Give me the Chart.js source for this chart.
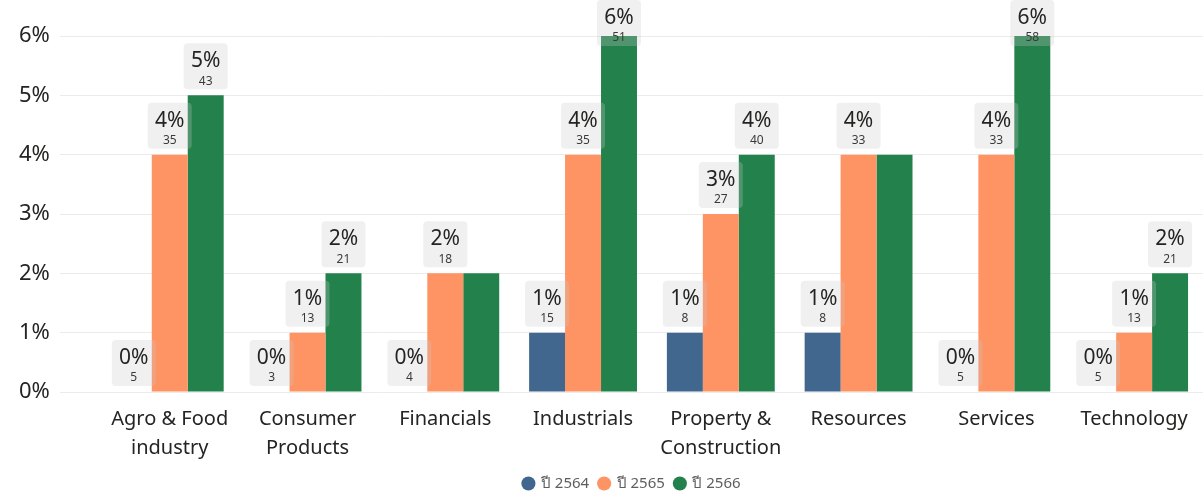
<!DOCTYPE html>
<html>
<head>
<meta charset="utf-8">
<script src="https://cdn.jsdelivr.net/npm/chart.js@4"></script>
<style>
  html, body { margin: 0; padding: 0; background: #fff; }
  #wrap { width: 1203px; height: 491px; }
</style>
</head>
<body>
<div id="wrap"><canvas id="mainChart"></canvas></div>
<script>
    const categorias = [
        ['Agro & Food', 'industry'],
        ['Consumer', 'Products'],
        'Financials',
        'Industrials',
        ['Property &', 'Construction'],
        'Resources',
        'Services',
        'Technology'
    ];
    const anios = ['ปี 2564', 'ปี 2565', 'ปี 2566'];
    const colores = ['#41678e', '#fe9463', '#23814c'];

    // porcentaje (redondeado) por sector
    const pct2564 = [0, 0, 0, 1, 1, 1, 0, 0];
    const pct2565 = [4, 1, 2, 4, 3, 4, 4, 1];
    const pct2566 = [5, 2, 2, 6, 4, 4, 6, 2];

    // cantidad mostrada bajo el porcentaje (null = etiqueta oculta)
    const cnt2564 = [5, 3, 4, 15, 8, 8, 5, 5];
    const cnt2565 = [35, 13, 18, 35, 27, 33, 33, 13];
    const cnt2566 = [43, 21, null, 51, 40, null, 58, 21];

    const yTicks = [0, 1, 2, 3, 4, 5, 6];

    const FONT = '"Segoe UI", "Noto Sans", "Open Sans", sans-serif';

    const valores = [pct2564, pct2565, pct2566];
    const cuentas = [cnt2564, cnt2565, cnt2566];

    const labelBoxes = {
        id: 'labelBoxes',
        afterLayout(chart) {
            // la leyenda del original queda algo a la derecha del centro
            chart.legend.left += 26;
            chart.legend.right += 26;
        },
        afterDatasetsDraw(chart) {
            const ctx = chart.ctx;
            ctx.save();
            chart.data.datasets.forEach((ds, di) => {
                const meta = chart.getDatasetMeta(di);
                meta.data.forEach((bar, i) => {
                    const c = cuentas[di][i];
                    if (c === null) return;
                    const w = 44, h = 46;
                    let top = bar.y - 6 - h;
                    if (top < 0) top = 0;
                    const left = bar.x - w / 2;
                    ctx.fillStyle = 'rgba(200,200,200,0.28)';
                    ctx.beginPath();
                    ctx.roundRect(left, top, w, h, 4);
                    ctx.fill();
                    ctx.textAlign = 'center';
                    ctx.textBaseline = 'middle';
                    ctx.fillStyle = '#252423';
                    ctx.font = '21px ' + FONT;
                    ctx.fillText(valores[di][i] + '%', bar.x, top + 18);
                    ctx.fillStyle = '#3a3a3a';
                    ctx.font = '12px ' + FONT;
                    ctx.fillText(String(c), bar.x, top + 38);
                });
            });
            ctx.restore();
        }
    };

    const ctx = document.getElementById('mainChart').getContext('2d');
    new Chart(ctx, {
        type: 'bar',
        data: {
            labels: categorias,
            datasets: anios.map((a, i) => ({
                label: a,
                data: valores[i],
                backgroundColor: colores[i],
                borderWidth: 0,
                categoryPercentage: 0.783,
                barPercentage: 1
            }))
        },
        options: {
            responsive: true,
            maintainAspectRatio: false,
            animation: false,
            layout: { padding: { top: 36, left: 9, right: 0, bottom: -10 } },
            plugins: {
                tooltip: { enabled: false },
                legend: {
                    position: 'bottom',
                    labels: {
                        usePointStyle: true,
                        pointStyle: 'circle',
                        boxWidth: 10,
                        boxHeight: 10,
                        padding: 10,
                        color: '#605e5c',
                        font: { size: 15, family: FONT }
                    }
                }
            },
            scales: {
                x: {
                    grid: { display: false, drawTicks: false },
                    border: { display: false },
                    afterFit: scale => { scale.height -= 10; },
                    ticks: {
                        color: '#252423',
                        padding: 13,
                        maxRotation: 0,
                        font: { size: 20, family: FONT, lineHeight: 1.45 }
                    }
                },
                y: {
                    min: 0,
                    max: 6,
                    afterBuildTicks: axis => { axis.ticks = yTicks.map(v => ({ value: v })); },
                    grid: { color: '#ebebeb', lineWidth: 1, drawTicks: true, tickLength: 41 },
                    border: { display: false },
                    ticks: {
                        color: '#252423',
                        padding: 10,
                        font: { size: 22, family: FONT },
                        callback: v => v + '%'
                    }
                }
            }
        },
        plugins: [labelBoxes]
    });
</script>
</body>
</html>
